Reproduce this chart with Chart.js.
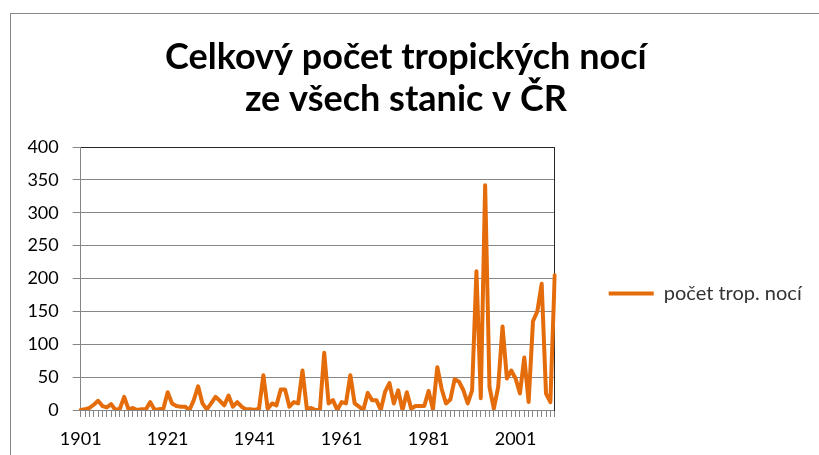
<!DOCTYPE html>
<html lang="cs">
<head>
<meta charset="utf-8">
<title>Celkový počet tropických nocí</title>
<script src="https://cdn.jsdelivr.net/npm/chart.js@4.4.1/dist/chart.umd.min.js"></script>
<style>
  html, body { margin: 0; padding: 0; background: #fff; }
  #wrap { position: relative; width: 819px; height: 455px; overflow: hidden; }
  #chart { position: absolute; left: 0; top: 0; }
  /* outer chart frame, cut off at the right and bottom like in the original */
  #frame { position: absolute; left: 10px; top: 13px; right: 0; bottom: -2px;
           border-left: 1px solid #868686; border-top: 1px solid #868686; pointer-events: none; }
</style>
</head>
<body>
<div id="wrap">
  <canvas id="chart" width="819" height="455"></canvas>
  <div id="frame"></div>
</div>
<script>
// --- data ---
const firstYear = 1901;
const lastYear = 2010;
const years = [];
for (let y = firstYear; y <= lastYear; y++) years.push(String(y));

const tropicalNights = [
  0, 1, 3, 8, 14, 6, 4, 9, 0, 2,          // 1901-1910
  20, 1, 3, 0, 1, 1, 12, 0, 1, 2,         // 1911-1920
  27, 10, 6, 5, 5, 0, 15, 36, 10, 1,      // 1921-1930
  10, 20, 14, 7, 22, 5, 12, 5, 1, 1,      // 1931-1940
  0, 2, 53, 2, 10, 7, 31, 31, 5, 12,      // 1941-1950
  10, 60, 2, 3, 0, 0, 87, 10, 15, 0,      // 1951-1960
  12, 10, 53, 10, 5, 0, 26, 15, 15, 0,    // 1961-1970
  28, 41, 10, 30, 0, 27, 2, 6, 6, 6,      // 1971-1980
  29, 1, 65, 32, 10, 16, 47, 43, 30, 10,  // 1981-1990
  30, 211, 18, 342, 35, 2, 35, 127, 48, 60, // 1991-2000
  48, 25, 80, 12, 135, 150, 192, 25, 12, 205 // 2001-2010
];

const xTickLabels = ['1901', '1921', '1941', '1961', '1981', '2001'];
const yTicks = [0, 50, 100, 150, 200, 250, 300, 350, 400];
const seriesName = 'počet trop. nocí';
const titleLines = ['Celkový počet tropických nocí', 'ze všech stanic v ČR'];

// --- style ---
const ORANGE = '#E46C0A';
const GRID = '#868686';
const DARK = '#262626';
const FONT = 'Lato, "Open Sans", sans-serif';

new Chart(document.getElementById('chart'), {
  type: 'line',
  data: {
    labels: years,
    datasets: [{
      label: seriesName,
      data: tropicalNights,
      borderColor: ORANGE,
      backgroundColor: ORANGE,
      borderWidth: 4,
      borderJoinStyle: 'round',
      borderCapStyle: 'round',
      pointRadius: 0,
      tension: 0
    }]
  },
  options: {
    responsive: false,
    animation: false,
    layout: { padding: { left: 0, right: 7.3, top: 0, bottom: 0 } },
    plugins: {
      title: {
        display: true,
        text: titleLines,
        color: '#000',
        font: { family: FONT, size: 36, weight: 'bold', lineHeight: 1.167 },
        padding: { top: 36, bottom: 27 }
      },
      legend: {
        position: 'right',
        align: 'start',
        maxWidth: 400,
        // empty title only pushes the single entry down
        title: { display: true, text: '', padding: { top: 0, bottom: 215 } },
        labels: {
          usePointStyle: true,
          pointStyle: 'line',
          pointStyleWidth: 45,
          padding: 54,
          color: '#333',
          font: { family: FONT, size: 20 }
        }
      },
      tooltip: { enabled: false }
    },
    scales: {
      x: {
        type: 'category',
        offset: false,
        afterFit: s => { s.height = 45; },
        grid: { display: true, drawOnChartArea: false, drawTicks: true, tickLength: 7, color: GRID },
        border: { display: true, color: GRID },
        ticks: {
          autoSkip: false,
          maxRotation: 0,
          minRotation: 0,
          padding: 11,
          color: '#000',
          font: { family: FONT, size: 18 },
          callback: function (value) {
            const lab = this.getLabelForValue(value);
            return xTickLabels.includes(lab) ? lab : '';
          }
        }
      },
      y: {
        min: yTicks[0],
        max: yTicks[yTicks.length - 1],
        afterBuildTicks: s => { s.ticks = yTicks.map(v => ({ value: v })); },
        afterFit: s => { s.width = 80.7; },
        grid: {
          color: ctx => (ctx.tick && ctx.tick.value === 400 ? DARK : GRID),
          tickColor: GRID,
          tickLength: 8
        },
        border: { display: true, color: GRID },
        ticks: { padding: 14, color: '#000', font: { family: FONT, size: 18 } }
      },
      // right-hand border of the plot area
      yRight: {
        position: 'right',
        min: 0,
        max: 400,
        grid: { display: false, drawTicks: false },
        ticks: { display: false },
        border: { display: true, color: DARK },
        afterFit: s => { s.width = 0; }
      }
    }
  }
});
</script>
</body>
</html>
